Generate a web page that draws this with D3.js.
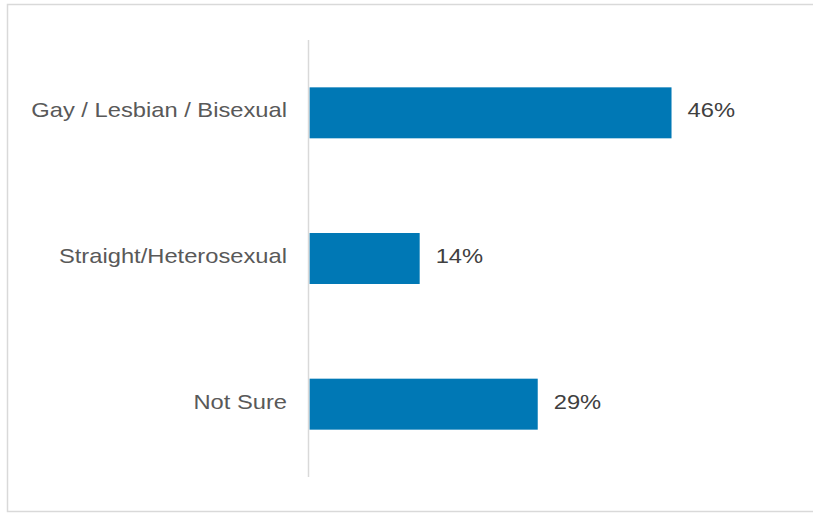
<!DOCTYPE html>
<html>
<head>
<meta charset="utf-8">
<script src="https://cdn.jsdelivr.net/npm/d3@7"></script>
<style>
  body { margin: 0; background: #fff; }
  text { font-family: "Liberation Sans", Arial, sans-serif; }
</style>
</head>
<body>
<div id="chart"></div>
<script>
const categories = ["Gay / Lesbian / Bisexual", "Straight/Heterosexual", "Not Sure"];
const values = [46, 14, 29];

const w = 813, h = 514;
const stretch = 1.13; // reference text is drawn wider than plain Arial

const svg = d3.select("#chart").append("svg")
  .attr("width", w)
  .attr("height", h);

// chart frame (right edge falls outside the picture)
svg.append("rect")
  .attr("x", 7.5).attr("y", 4.5)
  .attr("width", w + 10).attr("height", 507)
  .attr("fill", "none")
  .attr("stroke", "#d9d9d9")
  .attr("stroke-width", 1.5);

const x = d3.scaleLinear().domain([0, 50]).range([309.5, 309.5 + 7.87 * 50]),
      y = d3.scaleBand().domain(categories).range([40, 477]).paddingInner(0.65).paddingOuter(0.325);

svg.selectAll(".bar")
  .data(categories)
  .enter().append("rect")
  .attr("class", "bar")
  .attr("x", x(0))
  .attr("y", d => y(d))
  .attr("width", (d, i) => x(values[i]) - x(0))
  .attr("height", y.bandwidth())
  .attr("fill", "#0078b5");

// vertical axis line
svg.append("line")
  .attr("x1", 308.5).attr("x2", 308.5)
  .attr("y1", 40).attr("y2", 477)
  .attr("stroke", "#d9d9d9")
  .attr("stroke-width", 1.5);

svg.selectAll(".cat")
  .data(categories)
  .enter().append("text")
  .attr("class", "cat")
  .attr("transform", d => `translate(287,${y(d) + y.bandwidth() / 2}) scale(${stretch},1)`)
  .attr("dy", "0.22em")
  .attr("text-anchor", "end")
  .attr("font-size", 21)
  .attr("fill", "#595959")
  .text(d => d);

svg.selectAll(".val")
  .data(categories)
  .enter().append("text")
  .attr("class", "val")
  .attr("transform", (d, i) => `translate(${x(values[i]) + 16},${y(d) + y.bandwidth() / 2}) scale(${stretch},1)`)
  .attr("dy", "0.22em")
  .attr("font-size", 21)
  .attr("fill", "#404040")
  .text((d, i) => values[i] + "%");
</script>
</body>
</html>
